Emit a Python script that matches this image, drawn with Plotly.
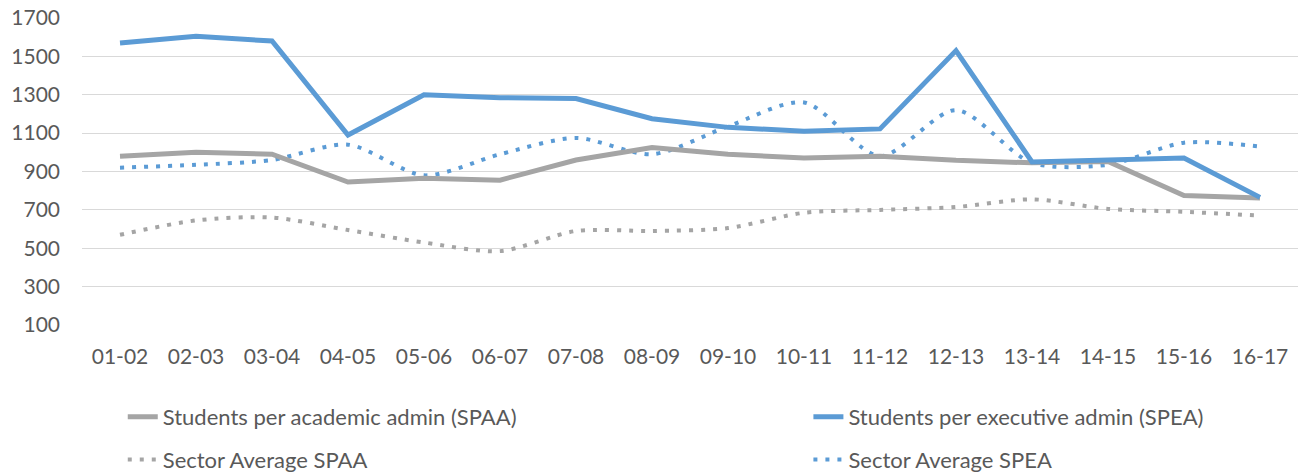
import plotly.graph_objects as go

categories = ["01-02", "02-03", "03-04", "04-05", "05-06", "06-07", "07-08", "08-09",
              "09-10", "10-11", "11-12", "12-13", "13-14", "14-15", "15-16", "16-17"]

spaa = [980, 1000, 990, 845, 865, 855, 960, 1025, 990, 970, 980, 958, 945, 952, 775, 762]
spea = [1570, 1605, 1580, 1090, 1300, 1285, 1280, 1175, 1130, 1110, 1122, 1530, 950, 960, 970, 765]
sector_spaa = [570, 645, 660, 595, 530, 485, 590, 590, 605, 685, 700, 715, 755, 705, 690, 670]
sector_spea = [920, 935, 960, 1040, 880, 990, 1075, 990, 1135, 1260, 980, 1220, 945, 935, 1050, 1030]

y_ticks = [100, 300, 500, 700, 900, 1100, 1300, 1500, 1700]

GRAY = "#A5A5A5"
BLUE = "#5B9BD5"
FONT = "Lato"
TXT = "#595959"

fig = go.Figure()
fig.add_trace(go.Scatter(x=categories, y=sector_spaa, mode="lines", name="Sector Average SPAA",
                         line=dict(color=GRAY, width=4, dash="4px,8px", shape="spline", smoothing=0.8),
                         legend="legend3"))
fig.add_trace(go.Scatter(x=categories, y=sector_spea, mode="lines", name="Sector Average SPEA",
                         line=dict(color=BLUE, width=4, dash="4px,8px", shape="spline", smoothing=0.8),
                         legend="legend4"))
fig.add_trace(go.Scatter(x=categories, y=spaa, mode="lines", name="Students per academic admin (SPAA)",
                         line=dict(color=GRAY, width=5), legend="legend"))
fig.add_trace(go.Scatter(x=categories, y=spea, mode="lines", name="Students per executive admin (SPEA)",
                         line=dict(color=BLUE, width=5), legend="legend2"))

def leg(x, y):
    return dict(orientation="h", xref="container", yref="container", x=x, y=y,
                xanchor="left", yanchor="middle",
                font=dict(family=FONT, size=22, color=TXT),
                bgcolor="rgba(0,0,0,0)", borderwidth=0)

fig.update_layout(
    width=1306, height=475,
    margin=dict(l=82, r=8, t=18, b=150, autoexpand=False),
    paper_bgcolor="white", plot_bgcolor="white",
    font=dict(family=FONT, size=21, color=TXT),
    showlegend=True,
    legend=leg(0.094, 0.122),
    legend2=leg(0.619, 0.122),
    legend3=leg(0.094, 0.032),
    legend4=leg(0.619, 0.032),
    xaxis=dict(type="category", range=[-0.5, 15.5], showgrid=False, showline=False, zeroline=False,
               automargin=False,
               ticks="", tickfont=dict(family=FONT, size=21, color=TXT), ticklabelstandoff=17),
    yaxis=dict(range=[100, 1700], tickvals=y_ticks, showgrid=True, gridcolor="#D9D9D9",
               gridwidth=1.3, zeroline=False, showline=False, ticks="", automargin=False,
               tickfont=dict(family=FONT, size=21, color=TXT), ticklabelstandoff=21),
)

fig.write_html("out.html", config={"displayModeBar": False},
               post_script="document.body.style.margin='0px';document.body.style.overflow='hidden';")
